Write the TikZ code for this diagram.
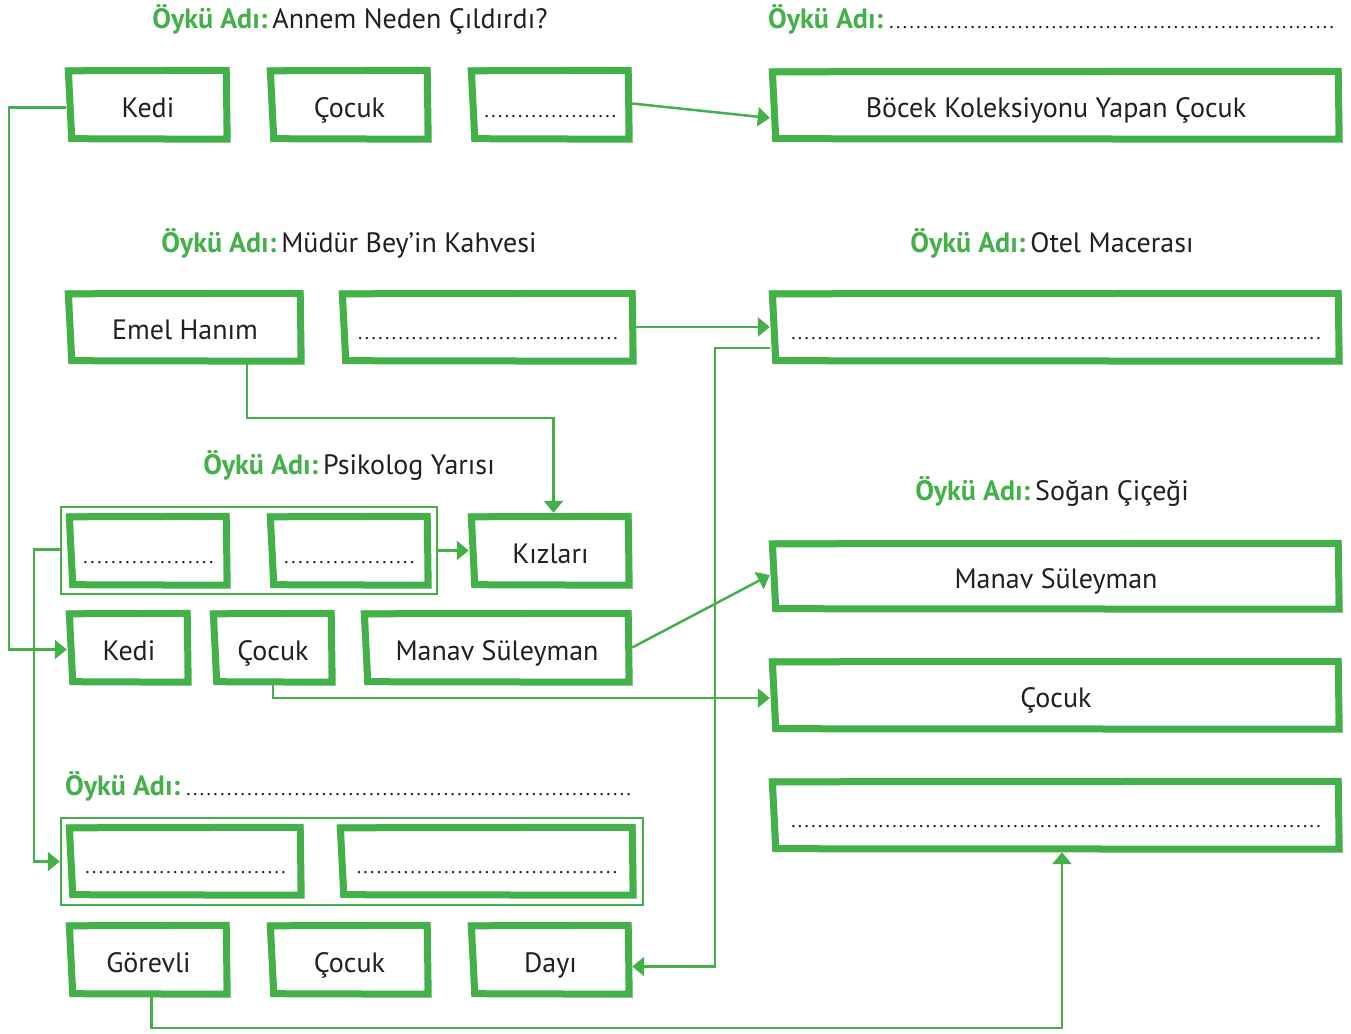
\documentclass[tikz,border=0pt]{standalone}
\usepackage{fontspec}
\setmainfont{PT Sans}
\usetikzlibrary{arrows.meta,calc}
\definecolor{gr}{RGB}{67,176,74}
\definecolor{ink}{RGB}{35,31,32}
\newcommand\dotfillx{{\fontsize{20}{22}\selectfont\xleaders\hbox to 6.7pt{\hss.\hss}\hfill}}
\newcommand\dotrow[1]{\makebox[#1pt]{\dotfillx}}
\newcommand\oyku{{\color{gr}\bfseries Öykü Adı:}\hspace{5pt}}
\newcommand\ttldots[1]{\hbox to #1pt{\oyku\dotfillx}}
\newcommand\skb[6]{%
  \node[bx,minimum width=#4pt,minimum height=#5pt] (#1) at (#2,#3) {#6};
  \draw[bxl] ($(#1.north west)+(2.5,4)$) -- ($(#1.north east)+(-4,3.5)$) -- ($(#1.south east)+(-3,-3)$) -- ($(#1.south west)+(6,-3.5)$) -- cycle;
  \draw[bxl,line width=4.5pt] ($(#1.north west)+(4,3)$) -- ($(#1.north east)+(-3,4.5)$) -- ($(#1.south east)+(-4.5,-2.5)$) -- ($(#1.south west)+(4.5,-4)$) -- cycle;}
\tikzset{
  bx/.style={draw=none,inner sep=0pt,text=ink,font=\fontsize{28}{31}\selectfont,text height=25.5pt,text depth=0pt},
  bxl/.style={draw=gr,line width=7pt,line join=miter},
  grp/.style={draw=gr,line width=2.5pt,inner sep=0pt},
  conn/.style={draw=gr,line width=2.5pt},
  arr/.style={conn,-{Triangle[length=12pt,width=19pt]}},
  ttl/.style={text=ink,font=\fontsize{28}{32}\selectfont,inner sep=0pt,anchor=base}
}
\begin{document}
\begin{tikzpicture}[x=1pt,y=-1pt]
\useasboundingbox[fill=white] (0,0) rectangle (1351,1033);
% titles
\node[ttl] (t1) at (350,29) {\oyku Annem Neden Çıldırdı?};
\node[ttl,anchor=base west] (t2) at (768,29) {\ttldots{567}};
\node[ttl] (t3) at (349,252) {\oyku Müdür Bey’in Kahvesi};
\node[ttl] (t4) at (1052,252) {\oyku Otel Macerası};
\node[ttl] (t5) at (349,474) {\oyku Psikolog Yarısı};
\node[ttl] (t6) at (1052,500) {\oyku Soğan Çiçeği};
\node[ttl,anchor=base west] (t7) at (65,795) {\ttldots{567}};
% group frames
\node[grp,minimum width=376pt,minimum height=87pt] (grp3) at (249,550.5) {};
\node[grp,minimum width=582pt,minimum height=87pt] (grp5) at (352,861.5) {};
% row 1
\skb{kedi1}{148}{104.5}{164}{75}{Kedi}
\skb{cocuk1}{349.5}{104.5}{163}{75}{Çocuk}
\skb{dots1}{550.5}{104.5}{163}{75}{\dotrow{134}}
\skb{bocek}{1056}{105}{572}{74}{Böcek Koleksiyonu Yapan Çocuk}
% row 2
\skb{emel}{185}{327}{238}{74}{Emel Hanım}
\skb{dots2}{488}{327}{296}{74}{\dotrow{262}}
\skb{otel}{1056}{327}{572}{74}{\dotrow{532}}
% row 3
\skb{d3a}{148.5}{550.5}{163}{75}{\dotrow{133}}
\skb{d3b}{349.5}{550.5}{163}{75}{\dotrow{133}}
\skb{kizlari}{550.5}{550.5}{163}{75}{Kızları}
\skb{manavR}{1056}{576}{572}{72}{Manav Süleyman}
% row 4
\skb{kedi2}{129}{647.5}{124}{75}{Kedi}
\skb{cocuk2}{273}{647.5}{124}{75}{Çocuk}
\skb{manav}{497}{647.5}{270}{75}{Manav Süleyman}
\skb{cocukR}{1056}{695}{572}{74}{Çocuk}
% row 5
\skb{d5a}{185.5}{861}{237}{74}{\dotrow{203}}
\skb{d5b}{487}{861}{298}{74}{\dotrow{263}}
\skb{dotsR}{1056}{815}{572}{74}{\dotrow{532}}
% row 6
\skb{gorevli}{148.5}{959.5}{163}{75}{Görevli}
\skb{cocuk3}{349.5}{959.5}{163}{75}{Çocuk}
\skb{dayi}{550.5}{959.5}{163}{75}{Dayı}
% connectors
\draw[arr] ([yshift=-3pt]kedi1.west) -- ++(-57,0) |- ([yshift=-2pt]kedi2.west);
\draw[arr] ([yshift=1pt]dots1.east) -- ([yshift=-13pt]bocek.west);
\draw[arr] (dots2.east) -- (otel.west);
\draw[arr] ([xshift=62pt]emel.south) -- ++(0,54) -| ([xshift=3pt]kizlari.north);
\draw[arr] (grp3.east) -- (kizlari.west);
\draw[arr] ([yshift=1pt]grp3.west) -- ++(-26,0) |- (grp5.west);
\draw[arr] (manav.east) -- ([yshift=1pt]manavR.west);
\draw[arr] (cocuk2.south) |- ([yshift=-3pt]cocukR.west);
\draw[arr] ([yshift=-21pt]otel.west) -- ++(-55,0) |- ([yshift=-7pt]dayi.east);
\draw[arr] ([xshift=3pt]gorevli.south) -- ++(0,31) -| ([xshift=6pt]dotsR.south);
\end{tikzpicture}
\end{document}
